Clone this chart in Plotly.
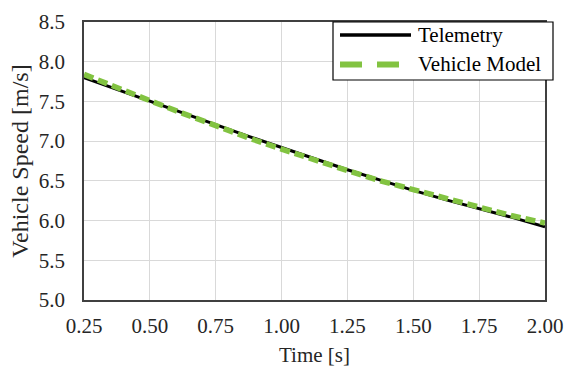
import plotly.graph_objects as go

# Time samples [s]
time_s = [0.25, 0.375, 0.5, 0.625, 0.75, 0.875, 1.0, 1.125, 1.25, 1.375, 1.5, 1.625, 1.75, 1.875, 2.0]
# Measured vehicle speed [m/s]
telemetry = [7.80, 7.65, 7.50, 7.35, 7.20, 7.06, 6.92, 6.78, 6.64, 6.51, 6.38, 6.26, 6.15, 6.04, 5.92]
# Simulated vehicle speed [m/s]
vehicle_model = [7.84, 7.67, 7.51, 7.35, 7.19, 7.04, 6.90, 6.76, 6.63, 6.50, 6.39, 6.27, 6.16, 6.06, 5.97]

series_names = ["Telemetry", "Vehicle Model"]
x_ticks = [0.25, 0.50, 0.75, 1.00, 1.25, 1.50, 1.75, 2.00]
y_ticks = [5.0, 5.5, 6.0, 6.5, 7.0, 7.5, 8.0, 8.5]

font_family = "Liberation Serif"
text_color = "#262626"
green = "#82c341"

fig = go.Figure()
fig.add_trace(go.Scatter(
    x=time_s, y=telemetry, mode="lines", name=series_names[0],
    line=dict(color="black", width=3),
))
fig.add_trace(go.Scatter(
    x=time_s, y=vehicle_model, mode="lines", name=series_names[1],
    line=dict(color=green, width=5.5, dash="10px,5px"),
))

axis_common = dict(
    showgrid=True, gridcolor="#d9d9d9", gridwidth=1,
    showline=True, linecolor="#404040", linewidth=1.5, mirror=True,
    zeroline=False, ticks="", automargin=False,
    tickfont=dict(family=font_family, size=21, color=text_color),
)

fig.update_xaxes(
    range=[0.25, 2.0], tickvals=x_ticks,
    ticktext=[f"{v:.2f}" for v in x_ticks],
    title=dict(text="Time [s]", font=dict(family=font_family, size=21, color=text_color), standoff=10),
    ticklabelstandoff=6,
    **axis_common,
)
fig.update_yaxes(
    range=[5.0, 8.5], tickvals=y_ticks,
    ticktext=[f"{v:.1f}" for v in y_ticks],
    title=dict(text="Vehicle Speed [m/s]", font=dict(family=font_family, size=24, color=text_color), standoff=3),
    ticklabelstandoff=13,
    **axis_common,
)

# Legend box in the upper right, drawn in paper coordinates of the plot area
# (plot area spans 461 x 278 px)
pw, ph = 461.0, 278.0
def px_x(v):
    return v / pw
def px_y(v):
    return 1 - v / ph

box_l, box_r, box_t, box_b = 249, 469, 0, 58
fig.add_shape(type="rect", xref="paper", yref="paper",
              x0=px_x(box_l), x1=px_x(box_r), y0=px_y(box_b), y1=px_y(box_t),
              line=dict(color="black", width=1.2), fillcolor="white", layer="above")
row_y = [13, 42.5]
fig.add_shape(type="line", xref="paper", yref="paper",
              x0=px_x(256), x1=px_x(327), y0=px_y(row_y[0]), y1=px_y(row_y[0]),
              line=dict(color="black", width=3.5), layer="above")
fig.add_shape(type="line", xref="paper", yref="paper",
              x0=px_x(256), x1=px_x(327), y0=px_y(row_y[1]), y1=px_y(row_y[1]),
              line=dict(color=green, width=6, dash="22px,15px"), layer="above")
for name, ry in zip(series_names, row_y):
    fig.add_annotation(xref="paper", yref="paper", x=px_x(332), y=px_y(ry),
                       xanchor="left", yanchor="middle", text=name, showarrow=False,
                       font=dict(family=font_family, size=21, color="black"))

fig.update_layout(
    width=575, height=369,
    margin=dict(l=84, r=30, t=22, b=69),
    paper_bgcolor="white", plot_bgcolor="white",
    showlegend=False,
)

fig.write_html("out.html")
